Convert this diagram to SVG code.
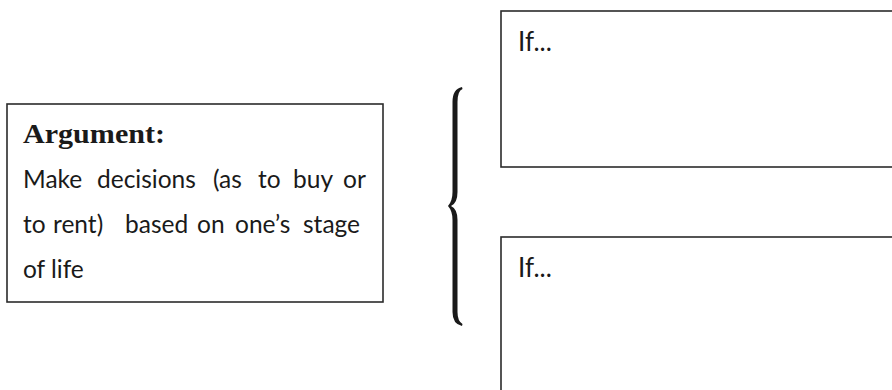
<svg xmlns="http://www.w3.org/2000/svg" width="892" height="390" viewBox="0 0 892 390">
<style>
.box{fill:#fff;stroke:#2b2b2b;stroke-width:1.6}
.t{font-family:Lato,"Open Sans","Liberation Sans",sans-serif;font-size:24.5px;fill:#1a1a1a}
.h{font-family:"Liberation Serif",serif;font-weight:bold;font-size:27px;fill:#1a1a1a}
.if{font-family:Lato,"Open Sans","Liberation Sans",sans-serif;font-size:26px;fill:#1a1a1a}
</style>
<rect width="892" height="390" fill="#fff"/>
<g id="argument">
<rect class="box" x="7" y="104" width="376" height="198"/>
<text class="h" x="23" y="143" textLength="142" lengthAdjust="spacingAndGlyphs">Argument:</text>
<text class="t" y="188"><tspan x="23">Make</tspan><tspan x="97">decisions</tspan><tspan x="213">(as</tspan><tspan x="258">to</tspan><tspan x="293">buy</tspan><tspan x="343">or</tspan></text>
<text class="t" y="233"><tspan x="23">to</tspan><tspan x="53">rent)</tspan><tspan x="125">based</tspan><tspan x="197">on</tspan><tspan x="235">one’s</tspan><tspan x="303">stage</tspan></text>
<text class="t" x="23" y="278">of life</text>
</g>
<g id="connectors">
<path fill="#1a1a1a" d="M462,87 Q452.5,89 452.5,102 L452.5,192 Q452.5,201 448,206 Q452.5,211 452.5,220 L452.5,312 Q452.5,324 462,326 L462.5,324 Q457.5,321 457.5,312 L457.5,220 Q457.5,209 451,206 Q457.5,203 457.5,192 L457.5,102 Q457.5,91 462.5,89 Z"/>
</g>
<g id="if1">
<rect class="box" x="501" y="11" width="400" height="156"/>
<text class="if" x="518" y="51">If...</text>
</g>
<g id="if2">
<rect class="box" x="501" y="237" width="400" height="170"/>
<text class="if" x="518" y="277">If...</text>
</g>
</svg>
